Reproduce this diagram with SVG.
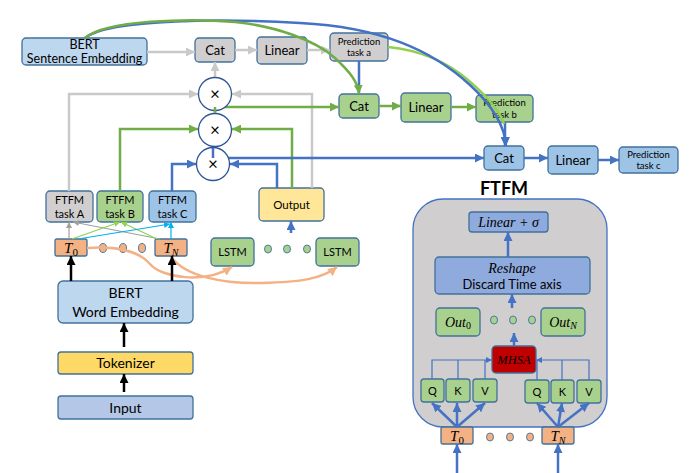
<svg xmlns="http://www.w3.org/2000/svg" width="696" height="473" viewBox="0 0 696 473">
<defs>
<style>
.t{font-family:Lato,"Open Sans","Liberation Sans",sans-serif;fill:#000;text-anchor:middle}
.m{font-family:"Liberation Serif","DejaVu Serif",serif;font-style:italic;fill:#000;text-anchor:middle}
.bx{stroke:#41719C;stroke-width:1.3}
.gray{fill:#D0CECE}.grn{fill:#A9D18E}.blu{fill:#9DC3E6}.lblu{fill:#BDD7EE}.org{fill:#F4B183}
.cg{fill:none;stroke:#C9C9C9;stroke-width:2.5}
.cgr{fill:none;stroke:#70AD47;stroke-width:2.5}
.cb{fill:none;stroke:#4472C4;stroke-width:2.5}
.co{fill:none;stroke:#F4B183;stroke-width:2.5}
.thin{fill:none;stroke-width:1.2}
</style>
<marker id="ag" viewBox="0 0 10 10" refX="10" refY="5" markerWidth="9" markerHeight="9" markerUnits="userSpaceOnUse" orient="auto"><path d="M0,0L10,5L0,10z" fill="#C9C9C9"/></marker>
<marker id="agr" viewBox="0 0 10 10" refX="10" refY="5" markerWidth="9" markerHeight="9" markerUnits="userSpaceOnUse" orient="auto"><path d="M0,0L10,5L0,10z" fill="#70AD47"/></marker>
<marker id="ab" viewBox="0 0 10 10" refX="10" refY="5" markerWidth="9" markerHeight="9" markerUnits="userSpaceOnUse" orient="auto"><path d="M0,0L10,5L0,10z" fill="#4472C4"/></marker>
<marker id="ao" viewBox="0 0 10 10" refX="10" refY="5" markerWidth="9" markerHeight="9" markerUnits="userSpaceOnUse" orient="auto"><path d="M0,0L10,5L0,10z" fill="#F4B183"/></marker>
<marker id="ak" viewBox="0 0 10 10" refX="10" refY="5" markerWidth="9" markerHeight="9" markerUnits="userSpaceOnUse" orient="auto"><path d="M0,0L10,5L0,10z" fill="#000"/></marker>
<marker id="as" viewBox="0 0 10 10" refX="10" refY="5" markerWidth="6" markerHeight="6" markerUnits="userSpaceOnUse" orient="auto"><path d="M0,0L10,5L0,10z" fill="#A0A0A0"/></marker>
<marker id="asg" viewBox="0 0 10 10" refX="10" refY="5" markerWidth="6" markerHeight="6" markerUnits="userSpaceOnUse" orient="auto"><path d="M0,0L10,5L0,10z" fill="#92D050"/></marker>
<marker id="asc" viewBox="0 0 10 10" refX="10" refY="5" markerWidth="6" markerHeight="6" markerUnits="userSpaceOnUse" orient="auto"><path d="M0,0L10,5L0,10z" fill="#00B0F0"/></marker>
<marker id="asb" viewBox="0 0 10 10" refX="10" refY="5" markerWidth="6" markerHeight="6" markerUnits="userSpaceOnUse" orient="auto"><path d="M0,0L10,5L0,10z" fill="#4472C4"/></marker>
</defs>
<rect width="696" height="473" fill="#fff"/>

<!-- FTFM container -->
<g id="ftfm">
<text class="t" x="504" y="195" font-size="18" font-weight="bold">FTFM</text>
<rect x="413" y="199" width="194" height="228" rx="30" fill="#D0CECE" stroke="#4472C4" stroke-width="1.3"/>
<g id="ftfm-linear"><rect class="bx" x="469" y="212" width="79" height="20" rx="3" fill="#8FAADC"/><text class="m" x="508.5" y="227" font-size="14">Linear + σ</text></g>
<g id="ftfm-reshape"><rect class="bx" x="435" y="257" width="155" height="37" rx="4" fill="#8FAADC"/><text class="m" x="512" y="273" font-size="14">Reshape</text><text class="t" x="512" y="289" font-size="13">Discard Time axis</text></g>
<g id="ftfm-out0"><rect class="bx" x="436" y="308" width="44" height="28" rx="4" fill="#A9D18E"/><text class="m" x="458" y="327" font-size="14">Out<tspan font-style="normal" font-size="10" dy="2">0</tspan></text></g>
<g id="ftfm-outn"><rect class="bx" x="541" y="308" width="44" height="28" rx="4" fill="#A9D18E"/><text class="m" x="563" y="327" font-size="14">Out<tspan font-size="10" dy="2">N</tspan></text></g>
<g id="ftfm-dots-g" fill="#A9D18E" stroke="#41719C" stroke-width="0.9"><ellipse cx="494" cy="320" rx="3.5" ry="4"/><ellipse cx="513" cy="320" rx="3.5" ry="4"/><ellipse cx="532" cy="320" rx="3.5" ry="4"/></g>
<g id="ftfm-mhsa"><rect x="492" y="346" width="44" height="27" rx="4" fill="#C00000" stroke="#41719C" stroke-width="1.3"/><text class="m" x="514" y="364" font-size="12.5" fill="#2a0000">MHSA</text></g>
<g id="ftfm-q0"><rect class="bx grn" x="421" y="379" width="23" height="23" rx="3"/><text class="t" x="432.5" y="395" font-size="11">Q</text></g>
<g id="ftfm-k0"><rect class="bx grn" x="446" y="379" width="24" height="23" rx="3"/><text class="t" x="458" y="395" font-size="11">K</text></g>
<g id="ftfm-v0"><rect class="bx grn" x="473" y="379" width="24" height="23" rx="3"/><text class="t" x="485" y="395" font-size="11">V</text></g>
<g id="ftfm-qn"><rect class="bx grn" x="525" y="380" width="24" height="23" rx="3"/><text class="t" x="537" y="396" font-size="11">Q</text></g>
<g id="ftfm-kn"><rect class="bx grn" x="551" y="380" width="23" height="23" rx="3"/><text class="t" x="562.5" y="396" font-size="11">K</text></g>
<g id="ftfm-vn"><rect class="bx grn" x="577" y="380" width="24" height="23" rx="3"/><text class="t" x="589" y="396" font-size="11">V</text></g>
<g id="ftfm-t0"><rect class="bx org" x="441" y="427" width="32" height="17" rx="2"/><text class="m" x="457" y="441" font-size="15">T<tspan font-style="normal" font-size="11" dy="3">0</tspan></text></g>
<g id="ftfm-tn"><rect class="bx org" x="542" y="427" width="32" height="17" rx="2"/><text class="m" x="558" y="441" font-size="15">T<tspan font-size="10" dy="3">N</tspan></text></g>
<g id="ftfm-dots-o" fill="#F4B183" stroke="#41719C" stroke-width="0.9"><ellipse cx="490" cy="437" rx="3.5" ry="4"/><ellipse cx="510" cy="437" rx="3.5" ry="4"/><ellipse cx="530" cy="437" rx="3.5" ry="4"/></g>
</g>

<!-- main nodes -->
<g id="bert-sent"><rect class="bx lblu" x="22" y="38" width="125" height="27" rx="4"/><text class="t" x="84.5" y="49" font-size="12.5">BERT</text><text class="t" x="84.5" y="63" font-size="12.5">Sentence Embedding</text></g>
<g id="cat-a"><rect class="bx gray" x="195" y="38" width="40" height="24" rx="4"/><text class="t" x="215" y="55" font-size="13">Cat</text></g>
<g id="linear-a"><rect class="bx gray" x="257" y="37" width="50" height="27" rx="4"/><text class="t" x="282" y="55" font-size="13">Linear</text></g>
<g id="pred-a"><rect class="bx gray" x="330" y="33" width="58" height="28" rx="4"/><text class="t" x="359" y="45" font-size="9.5">Prediction</text><text class="t" x="359" y="56" font-size="9.5">task a</text></g>
<g id="cat-b"><rect class="bx grn" x="339" y="94" width="40" height="24" rx="4"/><text class="t" x="359" y="111" font-size="13">Cat</text></g>
<g id="linear-b"><rect class="bx grn" x="401" y="93" width="50" height="29" rx="4"/><text class="t" x="426" y="112" font-size="13">Linear</text></g>
<g id="pred-b"><rect class="bx grn" x="476" y="95" width="57" height="27" rx="4"/><text class="t" x="504.5" y="106" font-size="9.5">Prediction</text><text class="t" x="504.5" y="118" font-size="9.5">task b</text></g>
<g id="cat-c"><rect class="bx blu" x="484" y="146" width="40" height="24" rx="4"/><text class="t" x="504" y="163" font-size="13">Cat</text></g>
<g id="linear-c"><rect class="bx blu" x="548" y="146" width="50" height="28" rx="4"/><text class="t" x="573" y="165" font-size="13">Linear</text></g>
<g id="pred-c"><rect class="bx blu" x="619" y="147" width="59" height="26" rx="4"/><text class="t" x="648.5" y="158" font-size="9.5">Prediction</text><text class="t" x="648.5" y="169" font-size="9.5">task c</text></g>

<g id="ftfm-a"><rect class="bx gray" x="46" y="191" width="47" height="31" rx="4"/><text class="t" x="69.5" y="204" font-size="11">FTFM</text><text class="t" x="69.5" y="218" font-size="11">task A</text></g>
<g id="ftfm-b"><rect class="bx grn" x="97" y="191" width="46" height="31" rx="4"/><text class="t" x="120" y="204" font-size="11">FTFM</text><text class="t" x="120" y="218" font-size="11">task B</text></g>
<g id="ftfm-c"><rect class="bx blu" x="149" y="191" width="47" height="31" rx="4"/><text class="t" x="172.5" y="204" font-size="11">FTFM</text><text class="t" x="172.5" y="218" font-size="11">task C</text></g>
<g id="output"><rect class="bx" x="259" y="188" width="65" height="33" rx="4" fill="#FFE699"/><text class="t" x="291.5" y="209" font-size="11.5">Output</text></g>

<g id="t0"><rect class="bx org" x="55" y="239" width="32" height="17" rx="2"/><text class="m" x="71" y="253" font-size="15">T<tspan font-style="normal" font-size="11" dy="3">0</tspan></text></g>
<g id="tn"><rect class="bx org" x="155" y="239" width="32" height="17" rx="2"/><text class="m" x="171" y="253" font-size="15">T<tspan font-size="10" dy="3">N</tspan></text></g>
<g id="t-dots" fill="#F4B183" stroke="#41719C" stroke-width="0.9"><ellipse cx="103" cy="248" rx="3.5" ry="4.5"/><ellipse cx="123" cy="248" rx="3.5" ry="4.5"/><ellipse cx="142" cy="248" rx="3.5" ry="4.5"/></g>
<g id="lstm1"><rect class="bx grn" x="211" y="238" width="43" height="28" rx="4"/><text class="t" x="232.5" y="256" font-size="11">LSTM</text></g>
<g id="lstm2"><rect class="bx grn" x="316" y="238" width="43" height="28" rx="4"/><text class="t" x="337.5" y="256" font-size="11">LSTM</text></g>
<g id="lstm-dots" fill="#A9D18E" stroke="#41719C" stroke-width="0.9"><ellipse cx="268" cy="249" rx="3.5" ry="4"/><ellipse cx="287" cy="249" rx="3.5" ry="4"/><ellipse cx="307" cy="249" rx="3.5" ry="4"/></g>

<g id="bert-word"><rect class="bx lblu" x="58" y="281" width="135" height="42" rx="5"/><text class="t" x="125.5" y="298" font-size="14">BERT</text><text class="t" x="125.5" y="317" font-size="14">Word Embedding</text></g>
<g id="tokenizer"><rect class="bx" x="58" y="352" width="135" height="22" rx="3" fill="#FFD966"/><text class="t" x="125.5" y="368" font-size="14">Tokenizer</text></g>
<g id="input"><rect class="bx" x="58" y="396" width="135" height="23" rx="3" fill="#B4C7E7"/><text class="t" x="125.5" y="412.5" font-size="14">Input</text></g>

<!-- connectors -->
<g id="connectors">
<path class="cg" d="M147,52H195" marker-end="url(#ag)"/>
<path class="cg" d="M235,50H257" marker-end="url(#ag)"/>
<path class="cg" d="M307,50H330" marker-end="url(#ag)"/>
<path class="cg" d="M215,77V62" marker-end="url(#ag)"/>
<path class="cg" d="M69,191V94H198" marker-end="url(#ag)"/>
<path class="cg" d="M312,188V94H232" marker-end="url(#ag)"/>
<path class="cgr" d="M120,191V129H198" marker-end="url(#agr)"/>
<path class="cgr" d="M292,188V129H232" marker-end="url(#agr)"/>
<path class="cgr" d="M215,113V107H339" marker-end="url(#agr)"/>
<path class="cgr" d="M379,106H401" marker-end="url(#agr)"/>
<path class="cgr" d="M451,107H476" marker-end="url(#agr)"/>
<path class="cb" d="M172,191V164H196" marker-end="url(#ab)"/>
<path class="cb" d="M277,188V164H230" marker-end="url(#ab)"/>
<path class="cb" d="M213,149V158H484" marker-end="url(#ab)"/>
<path class="cb" d="M524,158H548" marker-end="url(#ab)"/>
<path class="cb" d="M598,160H619" marker-end="url(#ab)"/>
<path class="cb" d="M359,61V93"/>
<path class="cb" d="M505,122V146" marker-end="url(#ab)"/>
<path class="cb" d="M291,233V221" marker-end="url(#ab)"/>
<path d="M388,47C420,50 448,63 468,80C488,97 500,112 504,124" fill="none" stroke="#92D050" stroke-width="2.5"/>
<path class="cb" d="M85,38C110,18 230,19 300,23C380,27 432,50 470,85C495,108 505,128 506,146" marker-end="url(#ab)"/>
<path class="cgr" d="M85,38C105,20 190,18 235,22C275,26 315,40 335,58C350,72 358,82 359,94" marker-end="url(#agr)"/>
<path class="co" d="M87,248C118,246 140,252 150,264C162,278 205,284 232,267" marker-end="url(#ao)"/>
<path class="co" d="M172,258C186,276 222,284 262,283C300,282 322,279 337,267" marker-end="url(#ao)"/>
<path class="thin" stroke="#A0A0A0" d="M69,239V222" marker-end="url(#as)"/>
<path class="thin" stroke="#A0A0A0" d="M160,239L73,222" marker-end="url(#as)"/>
<path class="thin" stroke="#92D050" d="M72,239L120,222" marker-end="url(#asg)"/>
<path class="thin" stroke="#92D050" d="M157,239L121,222" marker-end="url(#asg)"/>
<path class="thin" stroke="#00B0F0" d="M78,239L170,224" marker-end="url(#asc)"/>
<path class="thin" stroke="#00B0F0" d="M171,239V222" marker-end="url(#asc)"/>
<path d="M71,281V256" stroke="#000" stroke-width="2.5" fill="none" marker-end="url(#ak)"/>
<path d="M172,281V256" stroke="#000" stroke-width="2.5" fill="none" marker-end="url(#ak)"/>
<path d="M124,347V323" stroke="#000" stroke-width="2.5" fill="none" marker-end="url(#ak)"/>
<path d="M124,392V374" stroke="#000" stroke-width="2.5" fill="none" marker-end="url(#ak)"/>
<path class="cb" d="M508,257V232" marker-end="url(#ab)"/>
<path class="cb" d="M512,308V294" marker-end="url(#ab)"/>
<path class="cb" d="M514,346V333" marker-end="url(#ab)"/>
<path class="thin" stroke="#4472C4" d="M432,379V360H492" marker-end="url(#asb)"/>
<path class="thin" stroke="#4472C4" d="M458,379V360M485,379V360"/>
<path class="thin" stroke="#4472C4" d="M589,380V360H536" marker-end="url(#asb)"/>
<path class="thin" stroke="#4472C4" d="M537,380V360M562,380V360"/>
<path class="cb" d="M457,427L432,403" marker-end="url(#ab)"/>
<path class="cb" d="M457,427L457,403" marker-end="url(#ab)"/>
<path class="cb" d="M457,427L485,403" marker-end="url(#ab)"/>
<path class="cb" d="M558,427L537,403" marker-end="url(#ab)"/>
<path class="cb" d="M558,427L562,403" marker-end="url(#ab)"/>
<path class="cb" d="M558,427L589,403" marker-end="url(#ab)"/>
<path class="cb" d="M457,473V444" marker-end="url(#ab)"/>
<path class="cb" d="M558,473V444" marker-end="url(#ab)"/>
</g>

<g id="mul-a"><circle cx="215" cy="94" r="16.5" fill="#fff" stroke="#2F5597" stroke-width="1.3"/><text class="t" x="215" y="100" font-size="17">×</text></g>
<g id="mul-b"><circle cx="215" cy="130" r="16.5" fill="#fff" stroke="#2F5597" stroke-width="1.3"/><text class="t" x="215" y="136" font-size="17">×</text></g>
<g id="mul-c"><circle cx="213" cy="164" r="16.5" fill="#fff" stroke="#2F5597" stroke-width="1.3"/><text class="t" x="213" y="170" font-size="17">×</text></g>
<path d="M215,113V107" fill="none" stroke="#70AD47" stroke-width="2.5"/>
<path d="M213,148V158" fill="none" stroke="#4472C4" stroke-width="2.5"/>
</svg>
